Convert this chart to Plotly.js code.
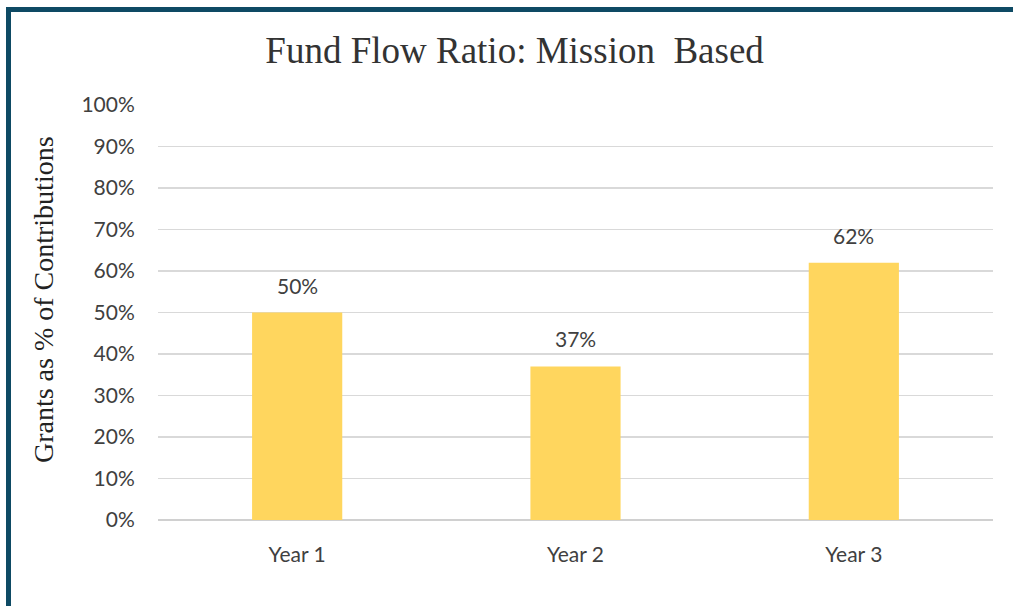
<!DOCTYPE html>
<html>
<head>
<meta charset="utf-8">
<script src="https://cdn.plot.ly/plotly-3.0.1.min.js"></script>
<style>
  html, body { margin: 0; padding: 0; background: #fff; }
  #wrap { position: relative; width: 1013px; height: 606px; overflow: hidden; }
  #chart { position: absolute; left: 0; top: 0; width: 1013px; height: 606px; }
  .bl { position: absolute; left: 6px; top: 7px; width: 5px; height: 600px; background: #0E4A64; }
  .bt { position: absolute; left: 6px; top: 7px; width: 1007px; height: 5px; background: #0E4A64; }
</style>
</head>
<body>
<div id="wrap">
  <div id="chart"></div>
  <div class="bl"></div>
  <div class="bt"></div>
</div>
<script>
const categories = ["Year 1", "Year 2", "Year 3"];
const values = [0.50, 0.37, 0.62];
const valueLabels = ["50%", "37%", "62%"];
const yTickVals = [0, 0.1, 0.2, 0.3, 0.4, 0.5, 0.6, 0.7, 0.8, 0.9, 1.0];
const yTickText = ["0%", "10%", "20%", "30%", "40%", "50%", "60%", "70%", "80%", "90%", "100%"];

const labelFont = { family: "Lato, 'Open Sans', sans-serif", size: 21, color: "#404040" };

const trace = {
  type: "bar",
  x: categories,
  y: values,
  marker: { color: "#FFD65E" },
  hoverinfo: "none"
};

const annotations = categories.map((c, i) => ({
  x: c, y: values[i], xref: "x", yref: "y",
  text: valueLabels[i], showarrow: false,
  yanchor: "bottom", yshift: 13,
  font: labelFont
}));
annotations.push({
  text: "Grants as % of Contributions",
  xref: "paper", yref: "paper", x: -0.1377, y: 0.53,
  xanchor: "center", yanchor: "middle", textangle: -90, showarrow: false,
  font: { family: "'Liberation Serif', 'Times New Roman', serif", size: 28, color: "#222222" }
});

const layout = {
  width: 1013,
  height: 606,
  margin: { l: 158, r: 20, t: 105, b: 86 },
  paper_bgcolor: "#ffffff",
  plot_bgcolor: "#ffffff",
  showlegend: false,
  bargap: 0.676,
  annotations: annotations,
  title: {
    text: "Fund Flow Ratio: Mission&nbsp; Based",
    font: { family: "'Liberation Serif', 'Times New Roman', serif", size: 37, color: "#333333" },
    x: 0.508, xref: "container", xanchor: "center",
    y: 0.917, yref: "container", yanchor: "middle"
  },
  xaxis: {
    type: "category",
    showgrid: false,
    showline: false,
    zeroline: false,
    ticks: "outside",
    ticklen: 16,
    tickcolor: "rgba(0,0,0,0)",
    tickfont: labelFont
  },
  yaxis: {
    range: [0, 1.0],
    tickvals: yTickVals,
    ticktext: yTickText,
    showgrid: true,
    gridcolor: "#D9D9D9",
    gridwidth: 1.5,
    zeroline: true,
    zerolinecolor: "#D0D0D0",
    zerolinewidth: 2,
    showline: false,
    ticks: "outside",
    ticklen: 18,
    tickcolor: "rgba(0,0,0,0)",
    tickfont: labelFont,
    automargin: false
  }
};

Plotly.newPlot("chart", [trace], layout, { displayModeBar: false, staticPlot: true });
</script>
</body>
</html>
